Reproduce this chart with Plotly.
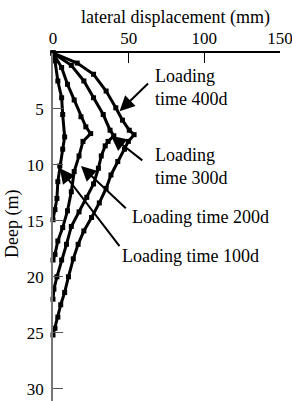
import plotly.graph_objects as go

# lateral displacement (mm) and depth (m) for each loading time
disp_100 = [0, 1.3, 3.2, 5.7, 6.4, 7.7, 6.4, 4.5, 3.2, 2.6, 1.3, 0]
depth_100 = [0, 0.7, 2.5, 4.0, 5.5, 7.5, 8.6, 10.1, 11.5, 13.0, 14.0, 14.9]

disp_200 = [0, 5.7, 9.6, 14.0, 18.5, 21.7, 24.9, 19.8, 17.2, 14.0, 12.1, 9.6, 6.4, 3.2, 1.3, 0]
depth_200 = [0, 1.3, 2.8, 4.2, 5.7, 6.6, 7.2, 7.9, 9.2, 10.6, 12.4, 14.1, 15.6, 16.8, 18.0, 18.5]

disp_300 = [0, 12.1, 20.4, 26.8, 33.2, 37.7, 40.2, 36.4, 34.5, 31.9, 30.0, 26.8, 22.3, 17.2, 12.1, 8.9, 5.7, 2.6, 0.6, 0]
depth_300 = [0, 1.1, 2.5, 4.0, 5.5, 6.9, 7.4, 7.9, 8.3, 9.2, 10.3, 11.7, 12.9, 14.2, 15.5, 17.1, 18.5, 20.0, 21.1, 22.0]

disp_400 = [0, 16.0, 26.8, 35.1, 41.5, 45.9, 50.4, 53.6, 49.8, 47.2, 42.8, 38.3, 35.1, 30.6, 25.5, 20.4, 16.6, 13.4, 10.2, 7.7, 5.1, 3.2, 1.3, 0]
depth_400 = [0, 0.9, 1.9, 3.4, 4.9, 6.0, 6.9, 7.3, 7.9, 8.6, 9.7, 10.9, 12.1, 13.4, 14.7, 15.9, 17.1, 18.4, 20.0, 21.4, 22.5, 23.6, 24.6, 25.2]

x_ticks = [0, 50, 100, 150]
y_ticks = [5, 10, 15, 20, 25, 30]

# label text, arrow tip (x, y), arrow tail (x, y), text anchor (x, y)
labels = ["Loading<br>time 400d", "Loading<br>time 300d", "Loading time 200d", "Loading time 100d"]
tips_x = [44.0, 38.3, 18.5, 4.5]
tips_y = [5.2, 7.4, 10.1, 10.3]
tails_x = [63.8, 60.0, 49.1, 44.7]
tails_y = [2.6, 9.7, 14.0, 17.4]
text_x = [66.4, 66.4, 51.1, 44.0]
text_y = [3.1, 10.15, 14.7, 18.1]

FONT = "Liberation Serif, DejaVu Serif, serif"

W, H = 292, 401
ML, MR, MT, MB = 53, 12, 53, 0
PW, PH = W - ML - MR, H - MT - MB

fig = go.Figure()
for xs, ys in [(disp_100, depth_100), (disp_200, depth_200), (disp_300, depth_300), (disp_400, depth_400)]:
    fig.add_trace(go.Scatter(
        x=xs, y=ys, mode="lines+markers",
        line=dict(color="black", width=3),
        marker=dict(symbol="square", size=5, color="black"),
        showlegend=False, hoverinfo="skip", cliponaxis=False,
    ))

annotations = []
for i in range(len(labels)):
    annotations.append(dict(
        x=tips_x[i], y=tips_y[i], ax=tails_x[i], ay=tails_y[i],
        xref="x", yref="y", axref="x", ayref="y",
        text="", showarrow=True, arrowhead=2, arrowsize=1.5,
        arrowwidth=2, arrowcolor="black",
    ))
    annotations.append(dict(
        x=text_x[i], y=text_y[i], xref="x", yref="y",
        text=labels[i], showarrow=False, xanchor="left", yanchor="middle",
        align="left", font=dict(family=FONT, size=18, color="black"),
    ))

# top axis title and left axis title as paper-positioned texts
annotations.append(dict(
    x=(175.5 - ML) / PW, y=1 + (MT - 17) / PH, xref="paper", yref="paper",
    text="lateral displacement (mm)", showarrow=False,
    xanchor="center", yanchor="middle",
    font=dict(family=FONT, size=18, color="black"),
))
annotations.append(dict(
    x=(12 - ML) / PW, y=(H - 224) / PH, xref="paper", yref="paper",
    text="Deep (m)", showarrow=False, textangle=-90,
    xanchor="center", yanchor="middle",
    font=dict(family=FONT, size=18, color="black"),
))

fig.update_layout(
    width=W, height=H,
    margin=dict(l=ML, r=MR, t=MT, b=MB, autoexpand=False),
    paper_bgcolor="white", plot_bgcolor="white",
    font=dict(family=FONT, size=18, color="black"),
    xaxis=dict(
        side="top", range=[0, 150], tickvals=x_ticks, automargin=False,
        ticks="inside", ticklen=10, tickcolor="black", tickwidth=1,
        showline=True, linecolor="black", linewidth=1.5,
        showgrid=False, zeroline=False, ticklabelstandoff=0,
        ticklabeloverflow="allow",
        tickfont=dict(family=FONT, size=17, color="black"),
    ),
    yaxis=dict(
        range=[31.1, 0], tickvals=y_ticks, automargin=False,
        ticks="inside", ticklen=10, tickcolor="#555555", tickwidth=1,
        showline=True, linecolor="#777777", linewidth=1.5,
        showgrid=False, zeroline=False, ticklabelstandoff=4,
        ticklabeloverflow="allow",
        tickfont=dict(family=FONT, size=17, color="black"),
    ),
    annotations=annotations,
)

fig.write_html("out.html", config={"displayModeBar": False},
               post_script="document.body.style.margin='0';")
